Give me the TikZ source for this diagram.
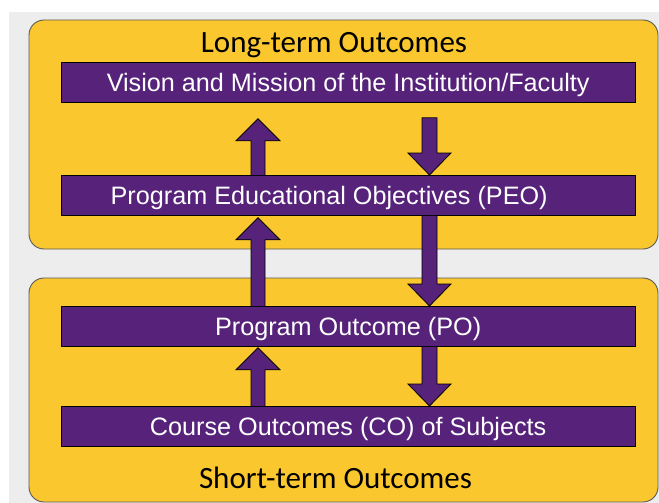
\documentclass[tikz,border=0pt]{standalone}
\usepackage{fontspec}
\setmainfont{Liberation Sans}
\newfontfamily\calibri{Carlito}
\usetikzlibrary{calc}
\definecolor{bgray}{RGB}{238,237,238}
\definecolor{gold}{RGB}{251,199,46}
\definecolor{purp}{RGB}{86,34,122}
\definecolor{edge}{RGB}{89,89,89}
\tikzset{
  zone/.style={fill=gold, draw=edge, line width=0.9pt, rounded corners=15pt},
  barbox/.style={fill=purp, draw=black, line width=0.8pt, minimum width=573.5pt,
    minimum height=40pt, inner sep=0pt, text=white,
    font=\fontsize{25.2}{28}\selectfont, text height=18pt, text depth=0pt,
    anchor=north west},
  blockarrow/.style={fill=purp, draw=black, line width=0.8pt, line join=miter},
  heading/.style={font=\calibri\fontsize{31}{36}\selectfont, anchor=base, inner sep=0pt}
}
\newcommand\blockup[3]{\draw[blockarrow] ($(#1)+(-7,0)$) -- ($(#2)+(-7,22)$) -- ($(#2)+(-22,22)$) -- (#2) -- ($(#2)+(22,22)$) -- ($(#2)+(7,22)$) -- ($(#1)+(7,0)$) #3;}
\newcommand\blockdown[3]{\draw[blockarrow] ($(#1)+(-7.5,0)$) -- ($(#2)+(-7.5,-22)$) -- ($(#2)+(-21.5,-22)$) -- (#2) -- ($(#2)+(21.5,-22)$) -- ($(#2)+(7.5,-22)$) -- ($(#1)+(7.5,0)$) #3;}
\begin{document}
\begin{tikzpicture}[x=1pt,y=-1pt]
\useasboundingbox (0,0) rectangle (659,503);
\fill[white] (0,0) rectangle (659,503);
\fill[bgray] (9,12) rectangle (659,503);
\path[zone] (29,20) rectangle (658,249);
\path[zone] (29,278) rectangle (658,502);

\node[heading] (lt) at (334,52.5) {Long-term Outcomes};
\node[heading] (st) at (335.5,488) {Short-term Outcomes};

\node[barbox] (vis) at (61,62) {Vision and Mission of the Institution/Faculty};
\node[barbox] (peo) at (61,175) {Program Educational Objectives (PEO)\hspace*{38pt}};
\node[barbox] (po) at (61,306) {Program Outcome (PO)};
\node[barbox] (co) at (61,406) {Course Outcomes (CO) of Subjects};

\coordinate (u1b) at ($(peo.north west)+(197,0)$);
\coordinate (u1t) at ($(vis.south west)+(197,16)$);
\coordinate (u2b) at ($(po.north west)+(197,0)$);
\coordinate (u2t) at ($(peo.south west)+(197,2)$);
\coordinate (u3b) at ($(co.north west)+(197,0)$);
\coordinate (u3t) at ($(po.south west)+(197,1)$);
\coordinate (d1b) at ($(vis.south west)+(368.5,15)$);
\coordinate (d1t) at ($(peo.north west)+(368.5,0)$);
\coordinate (d2b) at ($(peo.south west)+(368.5,0)$);
\coordinate (d2t) at ($(po.north west)+(368.5,0)$);
\coordinate (d3b) at ($(po.south west)+(368.5,0)$);
\coordinate (d3t) at ($(co.north west)+(368.5,0)$);

\blockup{u1b}{u1t}{}
\blockup{u2b}{u2t}{}
\blockup{u3b}{u3t}{}
\blockdown{d1b}{d1t}{-- cycle}
\blockdown{d2b}{d2t}{}
\blockdown{d3b}{d3t}{}
\end{tikzpicture}
\end{document}
